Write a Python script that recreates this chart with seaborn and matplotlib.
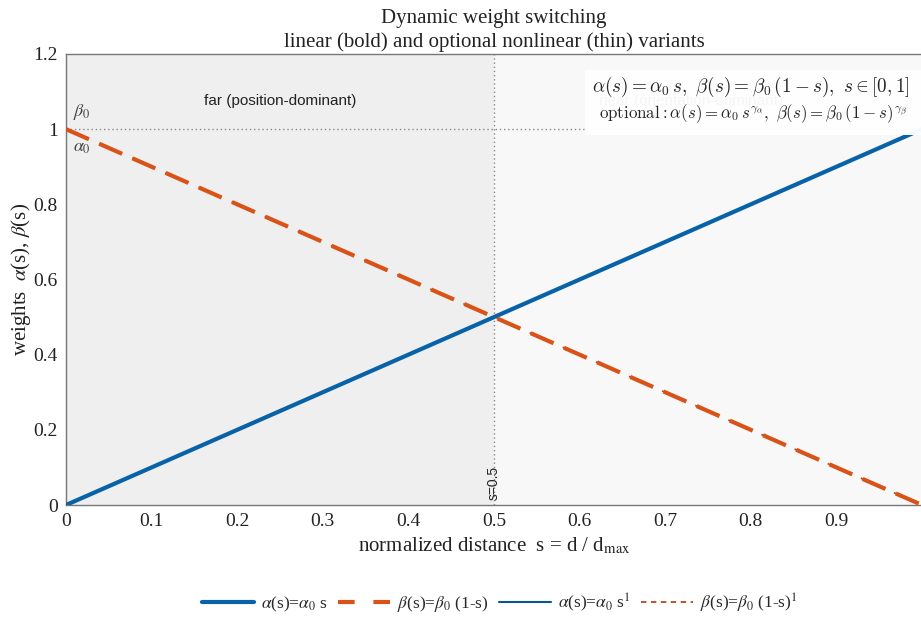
import numpy as np
import pandas as pd
import matplotlib
matplotlib.use("Agg")
import matplotlib.pyplot as plt
import seaborn as sns
from matplotlib.patches import Rectangle
from matplotlib.lines import Line2D

# ---- data ----
s_vals = [0.0, 0.5, 1.0]
alpha_lin = [0.0, 0.5, 1.0]
beta_lin = [1.0, 0.5, 0.0]
alpha_opt = [0.0, 0.5, 1.0]
beta_opt = [1.0, 0.5, 0.0]
x_ticks = [0, 0.1, 0.2, 0.3, 0.4, 0.5, 0.6, 0.7, 0.8, 0.9]
x_tick_labels = ["0", "0.1", "0.2", "0.3", "0.4", "0.5", "0.6", "0.7", "0.8", "0.9"]
y_ticks = [0, 0.2, 0.4, 0.6, 0.8, 1.0, 1.2]
y_tick_labels = ["0", "0.2", "0.4", "0.6", "0.8", "1", "1.2"]
legend_labels = [r"$\alpha$(s)=$\alpha_0$ s", r"$\beta$(s)=$\beta_0$ (1-s)",
                 r"$\alpha$(s)=$\alpha_0$ s$^1$", r"$\beta$(s)=$\beta_0$ (1-s)$^1$"]

sns.set_theme(style="white")
plt.rcParams["font.family"] = ["Liberation Serif", "DejaVu Serif"]
plt.rcParams["mathtext.fontset"] = "stix"

BLUE = "#0862a8"
ORANGE = "#d95319"
BLUE_T = "#0a5590"
ORANGE_T = "#b8461a"

fig = plt.figure(figsize=(9.21, 6.19), dpi=100)
ax = fig.add_axes([66/921, 1-505/619, 856/921, (505-54)/619])

# background regions
ax.axvspan(0, 0.5, color="#efefef", zorder=0, lw=0)
ax.axvspan(0.5, 1.0, color="#f8f8f8", zorder=0, lw=0)

df = pd.DataFrame({"s": s_vals, "a": alpha_lin, "b": beta_lin, "ao": alpha_opt, "bo": beta_opt})
sns.lineplot(data=df, x="s", y="ao", ax=ax, color=BLUE_T, lw=1.2, zorder=3)
sns.lineplot(data=df, x="s", y="bo", ax=ax, color=ORANGE_T, lw=1.2, zorder=3)
sns.lineplot(data=df, x="s", y="a", ax=ax, color=BLUE, lw=3, zorder=4)
sns.lineplot(data=df, x="s", y="b", ax=ax, color=ORANGE, lw=3, zorder=4)
lines = ax.get_lines()
lines[1].set_dashes([15, 6.7])
lines[3].set_dashes([6, 2.7])

# reference lines
ax.axhline(1.0, color="#888888", lw=1, ls=(0, (1, 2)), zorder=2)
ax.axvline(0.5, color="#888888", lw=1, ls=(0, (1, 2)), zorder=2)

ax.set_xlim(0, 1)
ax.set_ylim(0, 1.2)
ax.set_xticks(x_ticks)
ax.set_xticklabels(x_tick_labels)
ax.set_yticks(y_ticks)
ax.set_yticklabels(y_tick_labels)
ax.tick_params(axis="both", labelsize=14, length=0, pad=6, colors="#222222")
for sp in ax.spines.values():
    sp.set_color("#777777")
    sp.set_linewidth(1)

ax.set_xlabel(r"normalized distance  s = d / d$_{\rm max}$", fontsize=15, color="#222222", labelpad=4)
ax.set_ylabel(r"weights  $\alpha$(s), $\beta$(s)", fontsize=15, color="#222222", labelpad=0)
ax.set_title("Dynamic weight switching\nlinear (bold) and optional nonlinear (thin) variants",
             fontsize=15, color="#222222", pad=5, linespacing=1.3)

# annotations
ax.text(0.25, 1.075, "far (position-dominant)", fontsize=11, family="Liberation Sans",
        ha="center", va="center", color="#222222", zorder=3)
ax.text(0.73, 1.075, "near (orientation-dominant)", fontsize=11, family="Liberation Sans",
        ha="center", va="center", color="#222222", zorder=3)
ax.text(0.008, 1.045, r"$\beta_0$", fontsize=13, color="#444444", ha="left", va="center")
ax.text(0.008, 0.95, r"$\alpha_0$", fontsize=13, color="#444444", ha="left", va="center")
ax.text(0.5, 0.012, "s=0.5", rotation=90, fontsize=10, family="Liberation Sans",
        ha="center", va="bottom", color="#222222")

# formula box
ax.add_patch(Rectangle((0.606, 0.985), 0.394, 0.172, facecolor="white", alpha=0.96,
                       edgecolor="none", zorder=6))
ax.text(0.986, 1.112, r"$\alpha(s) = \alpha_0\, s,\ \beta(s) = \beta_0\,(1-s),\ s \in [0,1]$",
        fontsize=13.8, ha="right", va="center", math_fontfamily="cm", zorder=7)
ax.text(0.982, 1.040, r"$\mathrm{optional}: \alpha(s) = \alpha_0\, s^{\gamma_\alpha},\ \beta(s) = \beta_0\,(1-s)^{\gamma_\beta}$",
        fontsize=12.2, ha="right", va="center", math_fontfamily="cm", zorder=7)

handles = [
    Line2D([], [], color=BLUE, lw=3),
    Line2D([], [], color=ORANGE, lw=3, dashes=[4, 4.5]),
    Line2D([], [], color=BLUE_T, lw=1.5),
    Line2D([], [], color=ORANGE_T, lw=1.3, dashes=[3, 2.5]),
]
fig.legend(handles, legend_labels, loc="center", bbox_to_anchor=(500/921, 1-603/619),
           ncol=4, frameon=False, fontsize=12.5, handlelength=3.0, columnspacing=0.6,
           handletextpad=0.4)

fig.savefig("out.png", dpi=100)
